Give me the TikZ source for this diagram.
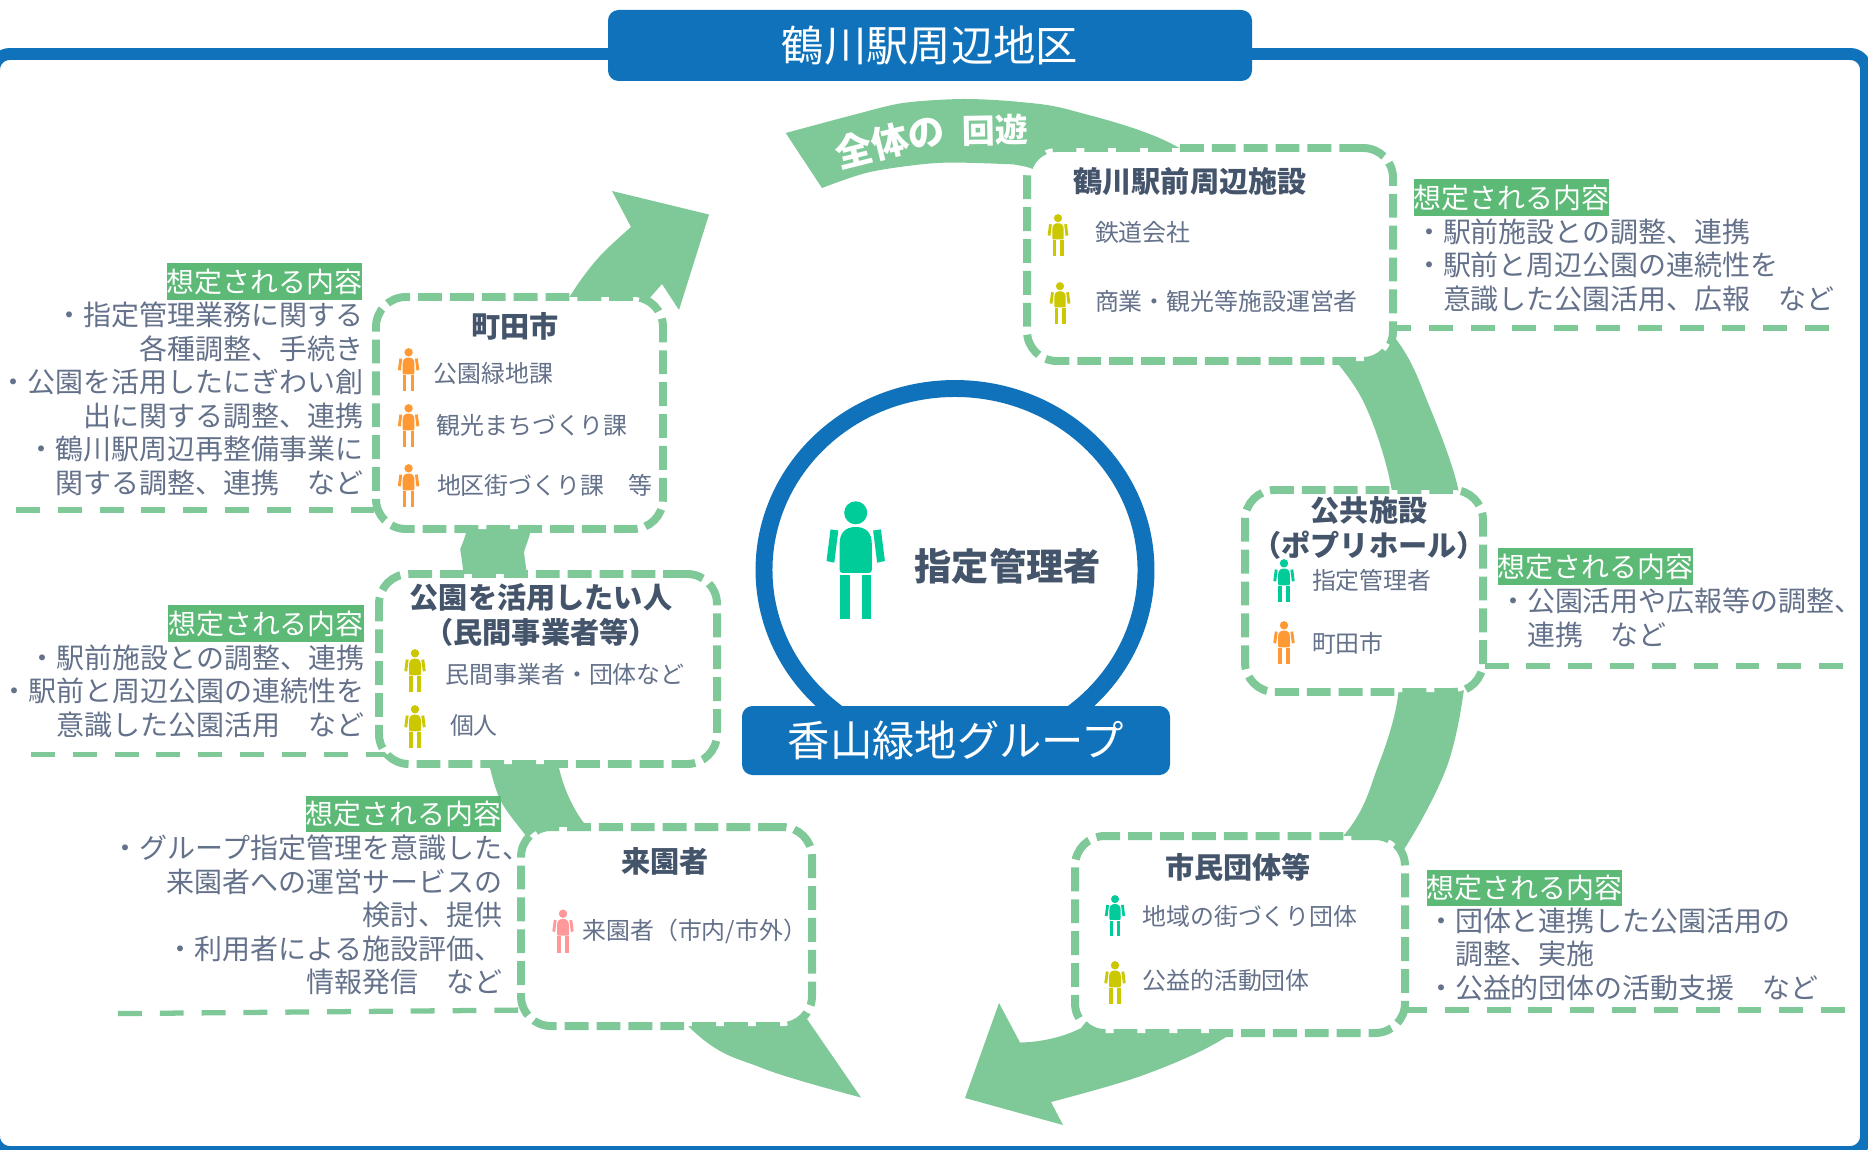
\documentclass[tikz,border=0pt]{standalone}
\usepackage{fontspec}
\usetikzlibrary{shapes.geometric}
\setmainfont{Noto Sans CJK JP}
\definecolor{mblue}{HTML}{1072BA}
\definecolor{agreen}{HTML}{7FC998}
\definecolor{hgreen}{HTML}{5CB976}
\definecolor{hd}{HTML}{44546A}
\definecolor{tx}{HTML}{64718A}
\definecolor{porange}{HTML}{FF9933}
\definecolor{pyellow}{HTML}{CCC800}
\definecolor{pteal}{HTML}{00CC99}
\definecolor{ppink}{HTML}{FF9999}
\tikzset{
  banner/.style={fill=mblue,text=white,rounded corners=6pt,inner sep=0pt,outer sep=0pt,font=\fontsize{24.1pt}{28pt}\selectfont},
  hilite/.style={fill=hgreen,text=white,inner sep=0pt,outer sep=0pt,minimum width=111.5pt,minimum height=21pt,font=\fontsize{15.9pt}{19pt}\selectfont},
  desc/.style={text=tx,inner sep=0pt,outer sep=0pt,font=\fontsize{15.93pt}{19.05pt}\selectfont},
  item/.style={text=tx,inner sep=0pt,outer sep=0pt,anchor=west,font=\fontsize{13.6pt}{16pt}\selectfont},
  heading/.style={text=hd,inner sep=0pt,outer sep=0pt,align=center,font=\bfseries\fontsize{16.6pt}{20pt}\selectfont},
  dboxstyle/.style={draw=agreen,fill=white,line width=4.54pt,dash pattern=on 13.6pt off 4.54pt,rounded corners=17pt,inner sep=0pt,outer sep=0pt},
  underl/.style={draw=agreen,line width=3pt,dash pattern=on 13.6pt off 10.2pt},
  flow/.style={fill=agreen},
  arctext/.style={text=white,inner sep=0pt,font=\bfseries\fontsize{18.7pt}{22pt}\selectfont}
}
\newcommand{\figperson}[4]{%
  \begin{scope}[shift={(#1,#2)},scale=#3]
    \fill[#4] (0,4.4) circle [radius=4.3];
    \fill[#4] (0,9.7) .. controls (4,9.7) and (6,12) .. (6,16) -- (6,25.7) .. controls (6,26.4) and (5.6,26.8) .. (5,26.8) -- (-5,26.8) .. controls (-5.6,26.8) and (-6,26.4) .. (-6,25.7) -- (-6,16) .. controls (-6,12) and (-4,9.7) .. (0,9.7) -- cycle;
    \fill[#4] (6.5,11) -- (9.4,10.6) -- (10.9,22.4) -- (8,23) -- cycle;
    \fill[#4] (-6.5,11) -- (-9.4,10.6) -- (-10.9,22.4) -- (-8,23) -- cycle;
    \fill[#4] (-5.8,27.6) rectangle (-2.2,44);
    \fill[#4] (2.2,27.6) rectangle (5.8,44);
  \end{scope}}
\newcommand{\boxnode}[5]{%
  \node[dboxstyle,minimum width={(#4-#2)*0.02cm},minimum height={(#5-#3)*0.02cm}] (#1) at ({(#2+#4)/2},{(#3+#5)/2}) {};}
\begin{document}
\begin{tikzpicture}[x=0.02cm,y=-0.02cm]
\useasboundingbox (0,0) rectangle (1868,1149);
\clip (0,0) rectangle (1868,1149);
% frame
\node[draw=mblue,line width=6.8pt,rounded corners=9pt,inner sep=0pt,outer sep=0pt,minimum width={1872*0.02cm},minimum height={1098*0.02cm}] (frame) at (930,603) {};
\node[banner,minimum width={644*0.02cm},minimum height={71*0.02cm}] (hdr) at (930,45.5) {鶴川駅周辺地区};
% flow arrows
\fill[flow] plot[smooth] coordinates {(785.7,133) (853,115) (903,103) (963,99) (1020,102) (1070,110) (1172,144) (1300,230) (1396,339) (1428,403) (1458,488) (1470,590) (1464,689) (1446,769) (1401,854) (1320,960) (1226,1037) (1142,1075.6) (1051,1102)}
  -- (1063,1125) -- (965,1098) -- (999,1003)
  -- plot[smooth] coordinates {(1020,1042.5) (1077,1030) (1220,950) (1344,835) (1378,766) (1398,696) (1402,590) (1391,486) (1369,414) (1339,365) (1240,250) (1130,190) (1027,167) (1003,164) (937,163) (870,172) (822,188)} -- cycle;
\fill[flow] plot[smooth] coordinates {(861,1097.5) (762,1068) (688,1026) (530,841) (490,768) (463,570) (466,533) (520,380) (572,293) (600,256) (631,227)}
  -- (612,191) -- (709,214.5) -- (679,310)
  -- plot[smooth] coordinates {(662,284) (580,390) (530,533.6) (527,575) (559,768) (584,823)} -- (807,1019) -- cycle;
\node[arctext,rotate=14,font=\bfseries\fontsize{21pt}{25pt}\selectfont] (arcA) at (890,141) {全体の};
\node[arctext,rotate=1] (arcB) at (995,130) {回遊};
% centre
\node[draw=mblue,line width=9.64pt,ellipse,minimum width={382*0.02cm},minimum height={363*0.02cm},inner sep=0pt,outer sep=0pt] (centre) at (955,570) {};
\node[banner,minimum width={428*0.02cm},minimum height={69*0.02cm}] (grp) at (956,740.5) {香山緑地グループ};
\figperson{855.7}{501}{2.68}{pteal}
\node[text=hd,inner sep=0pt,font=\bfseries\fontsize{21.2pt}{25pt}\selectfont] (mgr) at (1007.7,566) {指定管理者};
% dashed boxes and underlines
\coordinate (u1) at (16,510);
\coordinate (u2) at (1829,328);
\coordinate (u3) at (1843,666);
\coordinate (u4) at (1845,1010);
\coordinate (u5) at (31,754.7);
\coordinate (u6a) at (118,1013.6);
\coordinate (u6b) at (530,1010);
\draw[underl] (u1) -- (400,510);
\draw[underl] (u2) -- (1380,328);
\draw[underl] (u3) -- (1470,666);
\draw[underl] (u4) -- (1395,1010);
\draw[underl] (u5) -- (400,754.7);
\draw[underl] (u6a) -- (u6b);
\boxnode{mach}{376}{297}{663}{529}
\boxnode{tsuru}{1027}{148}{1393}{361}
\boxnode{pub}{1245}{490}{1483}{692}
\boxnode{civic}{1075}{836}{1405}{1033}
\boxnode{visit}{521}{827}{812}{1026}
\boxnode{park}{379}{574}{717}{764}
% Machida
\node[heading] (machT) at (515,326) {町田市};
\figperson{408.6}{348}{0.98}{porange}
\node[item] (m1) at (433.6,373) {公園緑地課};
\figperson{408.6}{404}{0.98}{porange}
\node[item] (m2) at (436.6,425) {観光まちづくり課};
\figperson{408.6}{464}{0.98}{porange}
\node[item] (m3) at (437,485) {地区街づくり課　等};
\node[hilite] (hm) at (264.5,281.5) {想定される内容};
\node[desc,anchor=east,align=right] (dm) at (363,399) {・指定管理業務に関する\\各種調整、手続き\\・公園を活用したにぎわい創\\出に関する調整、連携\\・鶴川駅周辺再整備事業に\\関する調整、連携　など};
% Tsurukawa
\node[heading] (tsuT) at (1190,182) {鶴川駅前周辺施設};
\figperson{1058}{214}{0.95}{pyellow}
\node[item] (t1) at (1095,232) {鉄道会社};
\figperson{1060}{282}{0.95}{pyellow}
\node[item] (t2) at (1095,301) {商業・観光等施設運営者};
\node[hilite] (ht) at (1511.5,197.5) {想定される内容};
\node[desc,anchor=west,align=left] (dt) at (1415,265) {・駅前施設との調整、連携\\・駅前と周辺公園の連続性を\\　意識した公園活用、広報　など};
% Public
\node[heading] (pubT) at (1369,528) {公共施設\\（ポプリホール）};
\figperson{1284}{559}{0.98}{pteal}
\node[item] (p1) at (1312,580) {指定管理者};
\figperson{1284}{621}{0.98}{porange}
\node[item] (p2) at (1312,643.6) {町田市};
\node[hilite] (hp) at (1595.5,566.5) {想定される内容};
\node[desc,anchor=west,align=left] (dp) at (1499,618) {・公園活用や広報等の調整、\\　連携　など};
% Civic
\node[heading] (civT) at (1238,867) {市民団体等};
\figperson{1115}{895}{0.93}{pteal}
\node[item] (c1) at (1142.5,916) {地域の街づくり団体};
\figperson{1115}{961}{0.98}{pyellow}
\node[item] (c2) at (1142.5,980) {公益的活動団体};
\node[hilite] (hc) at (1524.5,888) {想定される内容};
\node[desc,anchor=west,align=left] (dc) at (1427,954) {・団体と連携した公園活用の\\　調整、実施\\・公益的団体の活動支援　など};
% Visitors
\node[heading] (visT) at (665,861) {来園者};
\figperson{563}{909.4}{0.98}{ppink}
\node[item] (v1) at (582.5,931.4) {来園者（市内/市外）};
\node[hilite] (hv) at (403.5,814) {想定される内容};
\node[desc,anchor=east,align=right] (dv) at (502,915) {・グループ指定管理を意識した\rlap{、}\\来園者への運営サービスの\\検討、提供\\・利用者による施設評価、\\情報発信　など};
% Park users
\node[heading] (parT) at (541,615) {公園を活用したい人\\（民間事業者等）};
\figperson{415}{649}{0.98}{pyellow}
\node[item] (k1) at (445.7,674) {民間事業者・団体など};
\figperson{415}{705}{0.98}{pyellow}
\node[item] (k2) at (450,725) {個人};
\node[hilite] (hk) at (266,623.7) {想定される内容};
\node[desc,anchor=east,align=right] (dk) at (364.5,691) {・駅前施設との調整、連携\\・駅前と周辺公園の連続性を\\意識した公園活用　など};
\end{tikzpicture}
\end{document}
